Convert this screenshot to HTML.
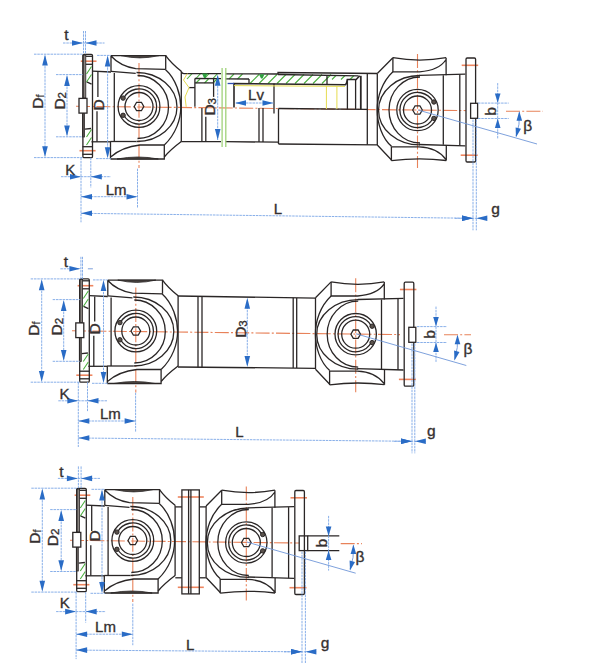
<!DOCTYPE html>
<html><head><meta charset="utf-8"><style>
html,body{margin:0;padding:0;background:#fff;}
svg{display:block;}
.k line,.k path,.k rect,.k circle,.k polygon{stroke:#2a2626;stroke-width:1.3;fill:none;}
.k rect[fill]{fill:#fff;}
.k .band{fill:#8a8480;stroke-width:0.8;}
.k .notch{fill:#5a524c;stroke-width:1;}
.k .lens{fill:#4a4440;stroke-width:0.8;}
.cl line{stroke:#e8825a;stroke-width:1.1;stroke-dasharray:14 2.2 2 2.2;}
.bl line,.bl path{stroke:#7aa6e6;stroke-width:0.9;stroke-dasharray:2.5 0.8;fill:none;}
.bolt line{stroke:#ee8660;stroke-width:1.6;}
.bs line,.bs path{stroke:#6f96d8;stroke-width:0.9;fill:none;}
.ar{fill:#2a6cc6;}
.gr line,.gr path{stroke:#4cb040;stroke-width:1.1;fill:none;}
.yl line,.yl path{stroke:#e6dc50;stroke-width:1;fill:none;}
text{font-family:"Liberation Sans",sans-serif;fill:#353030;stroke:#353030;stroke-width:0.35;}
.gr2 line{stroke:#9fd27a;stroke-width:1.3;}
</style></head><body>
<svg width="600" height="669" viewBox="0 0 600 669">

<g class="cl"><line x1="76" y1="106.3" x2="466" y2="110.6"/></g>
<g class="gr">
  <path d="M187.0,79 L192.0,73.6 M195.5,79 L200.5,73.6 M204.0,79 L209.0,73.6 M212.5,79 L217.5,73.6 M196.0,83 L200.0,79 M204.5,83 L208.5,79 M213.0,83 L217.0,79 M229.0,79 L234.0,74 M237.5,79 L242.5,74 M250.0,83.5 L259.0,74.5 M259.0,83.5 L268.0,74.5 M268.0,83.5 L277.0,74.5 M277.0,83.5 L286.0,74.5 M286.0,83.5 L295.0,74.5 M295.0,83.5 L304.0,74.5 M304.0,83.5 L313.0,74.5 M313.0,83.5 L322.0,74.5 M322.0,83.5 L331.0,74.5 M332.0,79.5 L336.0,75.5 M341.0,79.5 L345.0,75.5 M350.0,79.5 L354.0,75.5"/>
</g>
<g class="k">
  <path d="M181.3,71.5 Q182,73.6 184,73.6 L221,73.6 M225.5,73.8 L278,74 L278,72.5 L377.2,73.5"/>
  <line x1="278" y1="74.5" x2="358.5" y2="75.8"/>
  <line x1="181.3" y1="141.7" x2="221" y2="141.7"/>
  <line x1="194.9" y1="78.5" x2="221" y2="78.7"/>
  <line x1="225.5" y1="78.8" x2="249" y2="79"/>
  <line x1="249" y1="79" x2="249" y2="83.3"/>
  <line x1="194.9" y1="82.9" x2="213.6" y2="82.9"/>
  <line x1="194.9" y1="78.5" x2="194.9" y2="106.8"/>
  <line x1="189" y1="87.6" x2="194.9" y2="87.6"/>
  <line x1="213.6" y1="78.5" x2="213.6" y2="96.9"/>
  <line x1="201.9" y1="108" x2="201.9" y2="142"/>
  <line x1="205.8" y1="116.7" x2="205.8" y2="142"/>
  <line x1="225.5" y1="141.7" x2="278" y2="142.2"/>
  <line x1="259" y1="108" x2="259" y2="142"/>
  <line x1="263" y1="108" x2="263" y2="142"/>
  <path d="M234,107.4 L234,83.5 L345.1,84.8 Q346.5,84.5 347.4,79.5 L356.2,79.5 L359.7,75.8" style="stroke-width:1.6"/>
  <line x1="274" y1="83.5" x2="274" y2="113.5"/>
  <line x1="327" y1="75.8" x2="327" y2="84.2"/>
  <line x1="347.4" y1="79.5" x2="347.4" y2="109.3"/>
  <line x1="355.6" y1="79.5" x2="355.6" y2="109.3"/>
  <line x1="360.8" y1="75.8" x2="360.8" y2="109.3" style="stroke-width:1.8"/>
  <line x1="278.5" y1="108.5" x2="367.3" y2="109.3"/>
  <line x1="278.5" y1="108.5" x2="278.5" y2="144"/>
  <line x1="278.5" y1="144" x2="377.3" y2="144.8"/>
  <line x1="367.3" y1="73.6" x2="367.3" y2="144.8"/>
</g>
<g class="gr2">
  <line x1="222.1" y1="68" x2="222.1" y2="147"/>
  <line x1="225.8" y1="68" x2="225.8" y2="147"/>
</g>
<g class="yl">
  <path d="M187.3,73.6 L183.5,80 L189,87.6 L185,97 L186.2,106.8"/>
  <line x1="234" y1="85.6" x2="345" y2="86.4"/>
  <line x1="326.4" y1="86" x2="326.4" y2="109"/>
  <line x1="336.9" y1="86" x2="336.9" y2="109"/>
</g>
<path d="M202,73.6 L207.5,73.6 L205.5,78 L204,78 Z" fill="#2fa040"/>
<path d="M259,74.3 L264.5,74.3 L262.5,78.5 L261,78.5 Z" fill="#2fa040"/>
<g class="bl">
  <line x1="217.7" y1="76" x2="217.7" y2="140"/>
  <line x1="236" y1="103" x2="273.5" y2="103"/>
  <line x1="81" y1="213.3" x2="473" y2="218.3"/>
</g>
<g class="bs"><line x1="227.6" y1="83.5" x2="234" y2="83.5" style="stroke:#3050b0;stroke-width:1.3"/></g>
<polygon class="ar" points="217.7,74.8 220.5,85.8 214.9,85.8"/><polygon class="ar" points="217.7,140.0 214.9,129.0 220.5,129.0"/><polygon class="ar" points="235.0,103.0 246.0,100.2 246.0,105.8"/><polygon class="ar" points="273.5,103.0 262.5,105.8 262.5,100.2"/><polygon class="ar" points="473.0,218.3 462.0,221.0 462.0,215.4"/><text x="273.75" y="213.65" font-size="15" text-anchor="start">L</text><text x="215.45" y="115.6" font-size="15.5" text-anchor="start" transform="rotate(-90 215.45 115.6)">D<tspan font-size="11.5" dy="0.8">3</tspan></text><text x="248.1" y="99.65" font-size="15" text-anchor="start">Lv</text><g transform="translate(0,0)">

<g class="cl">
  <line x1="139" y1="63" x2="139" y2="168"/>
</g>
<g class="bolt">
  <line x1="80.8" y1="61.2" x2="96.5" y2="61.2"/>
  <line x1="79.5" y1="150.7" x2="95.6" y2="150.7"/>
</g>
<g class="k">
  <rect x="83" y="55" width="2.8" height="43" class="band"/>
  <rect x="82.5" y="113" width="2" height="24" class="band"/>
  <rect x="82.9" y="54.3" width="9.6" height="103.3" rx="1.2"/>
  <line x1="85.8" y1="56.3" x2="92.5" y2="56.3"/>
  <line x1="85.8" y1="64.3" x2="92.5" y2="64.3"/>
  <line x1="82.5" y1="146.7" x2="92.5" y2="146.7"/>
  <line x1="82.5" y1="154.3" x2="92.5" y2="154.3"/>
  <line x1="86.7" y1="81.8" x2="91.6" y2="84.1"/>
  <line x1="84.9" y1="129.2" x2="91.1" y2="128.5"/>
  <rect x="79" y="98.4" width="8" height="14.7" fill="#fff"/>
  <!-- hub -->
  <line x1="92.5" y1="71.1" x2="111" y2="72"/>
  <line x1="91.5" y1="141.8" x2="111" y2="141.8"/>
  <line x1="97.9" y1="72" x2="97.9" y2="97.1"/>
  <line x1="97" y1="111.3" x2="97" y2="141.8"/>
  <!-- top block -->
  <path d="M111,55.6 L165.7,55.6 L165.7,69.3 M111,55.6 L111,71.3 M111,56 Q120,66 135.7,68.7 L165.7,69.3"/>
  <path class="lens" d="M121,55.6 Q139.7,60.2 159,55.6 Z"/>
  <path d="M165.7,55.6 Q171,63 181.3,71.3"/>
  <!-- bottom block -->
  <path d="M110.5,159 L164.3,159 L164.3,145 M110.5,159 L110.5,141.8 M111,156.8 Q122,147 140,145 L164.3,145"/>
  <path class="lens" d="M117,159 Q138,155 158.3,159 Z"/>
  <path d="M164.3,157 Q170,150 181.3,141.5"/>
  <!-- body -->
  <line x1="111" y1="71.3" x2="135.7" y2="73.3"/>
  <line x1="110.5" y1="141.5" x2="136.3" y2="141.5"/>
  <line x1="114.3" y1="73" x2="114.3" y2="141.5"/>
  <line x1="181.3" y1="71.3" x2="181.3" y2="141.7"/>
  <path d="M136.5,72.5 A40.5,34.5 0 0 1 136.5,141.5"/>
  <path d="M137.5,75.5 A31,31.5 0 0 1 137.5,138.5"/>
  <path d="M165.4,69.5 C176,79 180.8,95 180.8,107 C180.8,119 176,134 164.3,145"/>
  <circle cx="139" cy="106.5" r="20.9"/>
  <path d="M123.5,98.2 A17.6,17.6 0 1 1 123.5,114.8"/>
  <circle cx="139" cy="106.5" r="14"/>
  <polygon points="134.2,106.5 136.6,102.3 141.4,102.3 143.8,106.5 141.4,110.7 136.6,110.7"/>
  <circle cx="123.1" cy="98.1" r="2.2" class="notch"/>
  <circle cx="123.1" cy="115.3" r="2.2" class="notch"/>
</g>
<g class="gr">
  <path d="M86.5,74 L91.5,66.5 M86.5,82 L91.5,74.5 M86.5,137 L91.5,129.5 M86.5,145 L91.5,137.5"/>
</g>

</g>
<g transform="translate(0,0)">

<g class="cl">
  <line x1="417.5" y1="54" x2="417.5" y2="168"/>
</g>
<g class="bolt">
  <line x1="461.7" y1="65.3" x2="478.2" y2="65.3"/>
  <line x1="460.7" y1="155.2" x2="477.7" y2="155.2"/>
</g>
<g class="k">
  <line x1="377.3" y1="73.5" x2="377.3" y2="145"/>
  <path d="M377.3,73.5 L392.9,57.7 M377.3,145 L391.5,160"/>
  <path d="M392.9,57.7 L392.9,71.8 L419.5,71.8 M446.1,57.7 L446.1,75.3 M446.1,59.5 Q439,70.5 419.5,71.8"/>
  <path d="M392.9,57.7 Q420,62.5 446.1,57.7"/>
  <path d="M391.4,160.7 L391.4,146.9 L419,146.9 M446.3,160.5 L446.3,145.5 M446,159.5 Q437,147.5 419,146.9"/>
  <path d="M391.4,160.7 Q419,157 446.3,160.5"/>
  <line x1="419.5" y1="75.3" x2="465.3" y2="74.2"/>
  <line x1="419" y1="144.5" x2="465.3" y2="145.8"/>
  <line x1="443.3" y1="75.3" x2="443.3" y2="144.8"/>
  <line x1="459.8" y1="74.6" x2="459.8" y2="145.6"/>
  <path d="M420,75.5 A41.5,34.7 0 0 0 420,144.9"/>
  <path d="M420,77 A31,33 0 0 0 420,143"/>
  <path d="M392.9,71.8 C382,82 377.2,97 377.2,110 C377.2,123 382,138 391.5,146.3"/>
  <circle cx="417.5" cy="110" r="20.7"/>
  <path d="M433,101.7 A17.6,17.6 0 1 0 433,118.3"/>
  <circle cx="417.5" cy="110" r="14"/>
  <polygon points="412.7,110 415.1,105.8 419.9,105.8 422.3,110 419.9,114.2 415.1,114.2"/>
  <circle cx="433.9" cy="102" r="2.2" class="notch"/>
  <circle cx="433.9" cy="118.4" r="2.2" class="notch"/>
  <rect x="466" y="58" width="9.6" height="104" rx="1.2"/>
</g>

</g>
<g transform="translate(0,0)">
<g class="k"><rect x="470.6" y="103.3" width="7" height="15" fill="#fff"/></g>
</g>
<g class="bl"><line x1="34" y1="54.2" x2="82.5" y2="54.2"/><line x1="34" y1="157.6" x2="82.5" y2="157.6"/><line x1="56" y1="74.6" x2="83.0" y2="74.6"/><line x1="56" y1="136.8" x2="82.5" y2="136.8"/><line x1="97.1" y1="55.4" x2="111" y2="55.4"/><line x1="96.1" y1="158.6" x2="111" y2="158.6"/><line x1="45" y1="56.2" x2="45" y2="155.6"/><line x1="67" y1="76.6" x2="67" y2="134.8"/><line x1="107.6" y1="57.4" x2="107.6" y2="156.6"/><line x1="81" y1="157.6" x2="81" y2="222.3"/><line x1="90.8" y1="157.6" x2="90.8" y2="187.7"/><line x1="61" y1="176.7" x2="110.8" y2="176.7"/><line x1="137.5" y1="168.7" x2="137.5" y2="207.7"/><line x1="81" y1="196.7" x2="137.5" y2="196.7"/><line x1="83.5" y1="31" x2="83.5" y2="54.2"/><line x1="85.5" y1="31" x2="85.5" y2="54.2"/><line x1="63" y1="43" x2="104.5" y2="43"/></g><polygon class="ar" points="83.0,43.0 72.0,45.8 72.0,40.2"/><polygon class="ar" points="85.5,43.0 96.5,40.2 96.5,45.8"/><polygon class="ar" points="45.0,54.5 47.8,65.5 42.2,65.5"/><polygon class="ar" points="45.0,157.3 42.2,146.3 47.8,146.3"/><polygon class="ar" points="67.0,75.0 69.8,86.0 64.2,86.0"/><polygon class="ar" points="67.0,136.5 64.2,125.5 69.8,125.5"/><polygon class="ar" points="107.6,55.6 110.4,66.6 104.8,66.6"/><polygon class="ar" points="107.6,158.2 104.8,147.2 110.4,147.2"/><polygon class="ar" points="81.0,176.7 70.0,179.5 70.0,173.9"/><polygon class="ar" points="90.8,176.7 101.8,173.9 101.8,179.5"/><polygon class="ar" points="81.0,196.7 92.0,193.9 92.0,199.5"/><polygon class="ar" points="137.5,196.7 126.5,199.5 126.5,193.9"/><polygon class="ar" points="81.0,213.3 92.0,210.5 92.0,216.1"/><text x="64.25" y="39.95" font-size="15.5" text-anchor="start">t</text><text x="42.62" y="108.65" font-size="15.5" text-anchor="start" transform="rotate(-90 42.62 108.65)">D<tspan font-size="10.5" dy="1">f</tspan></text><text x="64.8" y="109.6" font-size="15.5" text-anchor="start" transform="rotate(-90 64.8 109.6)">D<tspan font-size="11.5" dy="0.8">2</tspan></text><text x="104.35" y="110.55" font-size="15.5" text-anchor="start" transform="rotate(-90 104.35 110.55)">D</text><text x="65.25" y="174.5" font-size="15" text-anchor="start">K</text><text x="105.65" y="195.0" font-size="15" text-anchor="start">Lm</text><g class="bl"><line x1="497.7" y1="83.1" x2="497.7" y2="138.5"/><line x1="478" y1="103.1" x2="508.7" y2="103.1"/><line x1="478" y1="118.5" x2="508.7" y2="118.5"/><line x1="473" y1="119.5" x2="473" y2="230.3"/><line x1="476.3" y1="119.5" x2="476.3" y2="230.3"/><line x1="455" y1="218.3" x2="487.3" y2="218.3"/></g><g class="cl"><line x1="506" y1="111.3" x2="543" y2="111.3"/></g><g class="bs"><line x1="418" y1="110" x2="537" y2="144"/><path d="M519.3,112.3 Q520.3,124.30000000000001 516,136.3"/></g><polygon class="ar" points="497.7,103.1 494.9,93.6 500.5,93.6"/><polygon class="ar" points="497.7,118.5 500.5,128.0 494.9,128.0"/><polygon class="ar" points="473.0,218.3 462.0,221.1 462.0,215.5"/><polygon class="ar" points="476.3,218.3 487.3,215.5 487.3,221.1"/><polygon class="ar" points="519.3,111.3 522.1,120.8 516.5,120.8"/><polygon class="ar" points="516.0,137.3 515.6,127.4 521.0,128.8"/><text x="496.1" y="115.45" font-size="15" text-anchor="start" transform="rotate(-90 496.1 115.45)">b</text><text x="523.35" y="130.8" font-size="15.5" text-anchor="start">β</text><text x="491.25" y="214.2" font-size="15.5" text-anchor="start">g</text><g class="cl"><line x1="72" y1="330.8" x2="400" y2="334.6"/></g>
<g class="k">
  <line x1="178" y1="296" x2="315.5" y2="298.2"/>
  <line x1="178" y1="367" x2="315.5" y2="368.3"/>
  <line x1="198" y1="296.2" x2="198" y2="367.2"/>
  <line x1="202" y1="296.3" x2="202" y2="367.3"/>
  <line x1="293.2" y1="297.8" x2="293.2" y2="368.1"/>
  <line x1="296.7" y1="297.9" x2="296.7" y2="368.1"/>
</g>
<g class="bl"><line x1="247.3" y1="300" x2="247.3" y2="365"/></g>
<polygon class="ar" points="247.3,297.8 250.1,308.8 244.5,308.8"/><polygon class="ar" points="247.3,367.1 244.5,356.1 250.1,356.1"/><text x="245.8" y="337.85" font-size="15.5" text-anchor="start" transform="rotate(-90 245.8 337.85)">D<tspan font-size="11.5" dy="0.8">3</tspan></text><g class="bl"><line x1="78.3" y1="438" x2="412" y2="441.3"/></g><polygon class="ar" points="412.0,441.3 401.0,444.0 401.0,438.4"/><text x="235.2" y="437.45" font-size="15" text-anchor="start">L</text><g transform="translate(-3.2,224.5)">

<g class="cl">
  <line x1="139" y1="63" x2="139" y2="168"/>
</g>
<g class="bolt">
  <line x1="80.8" y1="61.2" x2="96.5" y2="61.2"/>
  <line x1="79.5" y1="150.7" x2="95.6" y2="150.7"/>
</g>
<g class="k">
  <rect x="83" y="55" width="2.8" height="43" class="band"/>
  <rect x="82.5" y="113" width="2" height="24" class="band"/>
  <rect x="82.9" y="54.3" width="9.6" height="103.3" rx="1.2"/>
  <line x1="85.8" y1="56.3" x2="92.5" y2="56.3"/>
  <line x1="85.8" y1="64.3" x2="92.5" y2="64.3"/>
  <line x1="82.5" y1="146.7" x2="92.5" y2="146.7"/>
  <line x1="82.5" y1="154.3" x2="92.5" y2="154.3"/>
  <line x1="86.7" y1="81.8" x2="91.6" y2="84.1"/>
  <line x1="84.9" y1="129.2" x2="91.1" y2="128.5"/>
  <rect x="79" y="98.4" width="8" height="14.7" fill="#fff"/>
  <!-- hub -->
  <line x1="92.5" y1="71.1" x2="111" y2="72"/>
  <line x1="91.5" y1="141.8" x2="111" y2="141.8"/>
  <line x1="97.9" y1="72" x2="97.9" y2="97.1"/>
  <line x1="97" y1="111.3" x2="97" y2="141.8"/>
  <!-- top block -->
  <path d="M111,55.6 L165.7,55.6 L165.7,69.3 M111,55.6 L111,71.3 M111,56 Q120,66 135.7,68.7 L165.7,69.3"/>
  <path class="lens" d="M121,55.6 Q139.7,60.2 159,55.6 Z"/>
  <path d="M165.7,55.6 Q171,63 181.3,71.3"/>
  <!-- bottom block -->
  <path d="M110.5,159 L164.3,159 L164.3,145 M110.5,159 L110.5,141.8 M111,156.8 Q122,147 140,145 L164.3,145"/>
  <path class="lens" d="M117,159 Q138,155 158.3,159 Z"/>
  <path d="M164.3,157 Q170,150 181.3,141.5"/>
  <!-- body -->
  <line x1="111" y1="71.3" x2="135.7" y2="73.3"/>
  <line x1="110.5" y1="141.5" x2="136.3" y2="141.5"/>
  <line x1="114.3" y1="73" x2="114.3" y2="141.5"/>
  <line x1="181.3" y1="71.3" x2="181.3" y2="141.7"/>
  <path d="M136.5,72.5 A40.5,34.5 0 0 1 136.5,141.5"/>
  <path d="M137.5,75.5 A31,31.5 0 0 1 137.5,138.5"/>
  <path d="M165.4,69.5 C176,79 180.8,95 180.8,107 C180.8,119 176,134 164.3,145"/>
  <circle cx="139" cy="106.5" r="20.9"/>
  <path d="M123.5,98.2 A17.6,17.6 0 1 1 123.5,114.8"/>
  <circle cx="139" cy="106.5" r="14"/>
  <polygon points="134.2,106.5 136.6,102.3 141.4,102.3 143.8,106.5 141.4,110.7 136.6,110.7"/>
  <circle cx="123.1" cy="98.1" r="2.2" class="notch"/>
  <circle cx="123.1" cy="115.3" r="2.2" class="notch"/>
</g>
<g class="gr">
  <path d="M86.5,74 L91.5,66.5 M86.5,82 L91.5,74.5 M86.5,137 L91.5,129.5 M86.5,145 L91.5,137.5"/>
</g>

</g>
<g transform="translate(-61.8,224.2)">

<g class="cl">
  <line x1="417.5" y1="54" x2="417.5" y2="168"/>
</g>
<g class="bolt">
  <line x1="461.7" y1="65.3" x2="478.2" y2="65.3"/>
  <line x1="460.7" y1="155.2" x2="477.7" y2="155.2"/>
</g>
<g class="k">
  <line x1="377.3" y1="73.5" x2="377.3" y2="145"/>
  <path d="M377.3,73.5 L392.9,57.7 M377.3,145 L391.5,160"/>
  <path d="M392.9,57.7 L392.9,71.8 L419.5,71.8 M446.1,57.7 L446.1,75.3 M446.1,59.5 Q439,70.5 419.5,71.8"/>
  <path d="M392.9,57.7 Q420,62.5 446.1,57.7"/>
  <path d="M391.4,160.7 L391.4,146.9 L419,146.9 M446.3,160.5 L446.3,145.5 M446,159.5 Q437,147.5 419,146.9"/>
  <path d="M391.4,160.7 Q419,157 446.3,160.5"/>
  <line x1="419.5" y1="75.3" x2="465.3" y2="74.2"/>
  <line x1="419" y1="144.5" x2="465.3" y2="145.8"/>
  <line x1="443.3" y1="75.3" x2="443.3" y2="144.8"/>
  <line x1="459.8" y1="74.6" x2="459.8" y2="145.6"/>
  <path d="M420,75.5 A41.5,34.7 0 0 0 420,144.9"/>
  <path d="M420,77 A31,33 0 0 0 420,143"/>
  <path d="M392.9,71.8 C382,82 377.2,97 377.2,110 C377.2,123 382,138 391.5,146.3"/>
  <circle cx="417.5" cy="110" r="20.7"/>
  <path d="M433,101.7 A17.6,17.6 0 1 0 433,118.3"/>
  <circle cx="417.5" cy="110" r="14"/>
  <polygon points="412.7,110 415.1,105.8 419.9,105.8 422.3,110 419.9,114.2 415.1,114.2"/>
  <circle cx="433.9" cy="102" r="2.2" class="notch"/>
  <circle cx="433.9" cy="118.4" r="2.2" class="notch"/>
  <rect x="466" y="58" width="9.6" height="104" rx="1.2"/>
</g>

</g>
<g transform="translate(-61.8,224)">
<g class="k"><rect x="470.6" y="103.3" width="7" height="15" fill="#fff"/></g>
</g>
<g class="bl"><line x1="30.700000000000003" y1="278.9" x2="79.8" y2="278.9"/><line x1="30.700000000000003" y1="382.2" x2="79.8" y2="382.2"/><line x1="52.7" y1="299.6" x2="80.3" y2="299.6"/><line x1="52.7" y1="361.3" x2="79.8" y2="361.3"/><line x1="93.0" y1="279.9" x2="107.6" y2="279.9"/><line x1="92.0" y1="383.3" x2="107.6" y2="383.3"/><line x1="41.7" y1="280.9" x2="41.7" y2="380.2"/><line x1="63.7" y1="301.6" x2="63.7" y2="359.3"/><line x1="103.5" y1="281.9" x2="103.5" y2="381.3"/><line x1="78.3" y1="382.2" x2="78.3" y2="447"/><line x1="87.5" y1="382.2" x2="87.5" y2="411.8"/><line x1="58.3" y1="400.8" x2="107.5" y2="400.8"/><line x1="135.6" y1="392.8" x2="135.6" y2="432"/><line x1="78.3" y1="421" x2="135.6" y2="421"/><line x1="80.9" y1="256.8" x2="80.9" y2="278.9"/><line x1="82.5" y1="256.8" x2="82.5" y2="278.9"/><line x1="60.400000000000006" y1="268.8" x2="80.4" y2="268.8"/></g><polygon class="ar" points="80.4,268.8 69.4,271.6 69.4,266.0"/><g class="bs"><line x1="87.9" y1="268.8" x2="92.9" y2="268.8"/></g><polygon class="ar" points="41.7,279.2 44.5,290.2 38.9,290.2"/><polygon class="ar" points="41.7,381.9 38.9,370.9 44.5,370.9"/><polygon class="ar" points="63.7,300.0 66.5,311.0 60.9,311.0"/><polygon class="ar" points="63.7,361.0 60.9,350.0 66.5,350.0"/><polygon class="ar" points="103.5,280.1 106.3,291.1 100.7,291.1"/><polygon class="ar" points="103.5,382.9 100.7,371.9 106.3,371.9"/><polygon class="ar" points="78.3,400.8 67.3,403.6 67.3,398.0"/><polygon class="ar" points="87.5,400.8 98.5,398.0 98.5,403.6"/><polygon class="ar" points="78.3,421.0 89.3,418.2 89.3,423.8"/><polygon class="ar" points="135.6,421.0 124.6,423.8 124.6,418.2"/><polygon class="ar" points="78.3,438.0 89.3,435.2 89.3,440.8"/><text x="63.85" y="266.75" font-size="15.5" text-anchor="start">t</text><text x="39.2" y="335.73" font-size="15.5" text-anchor="start" transform="rotate(-90 39.2 335.73)">D<tspan font-size="10.5" dy="1">f</tspan></text><text x="61.75" y="335.48" font-size="15.5" text-anchor="start" transform="rotate(-90 61.75 335.48)">D<tspan font-size="11.5" dy="0.8">2</tspan></text><text x="100.5" y="334.45" font-size="15.5" text-anchor="start" transform="rotate(-90 100.5 334.45)">D</text><text x="59.5" y="398.6" font-size="15" text-anchor="start">K</text><text x="99.9" y="419.05" font-size="15" text-anchor="start">Lm</text><g class="bl"><line x1="436" y1="306.6" x2="436" y2="362.5"/><line x1="417" y1="326.6" x2="447" y2="326.6"/><line x1="417" y1="342.5" x2="447" y2="342.5"/><line x1="412" y1="343.5" x2="412" y2="453.3"/><line x1="414.8" y1="343.5" x2="414.8" y2="453.3"/><line x1="394" y1="441.3" x2="425.8" y2="441.3"/></g><g class="cl"><line x1="444" y1="334.8" x2="471" y2="334.8"/></g><g class="bs"><line x1="356" y1="333.8" x2="466.3" y2="365.5"/><path d="M457.5,335.8 Q458.5,347.65 454.5,359.5"/></g><polygon class="ar" points="436.0,326.6 433.2,317.1 438.8,317.1"/><polygon class="ar" points="436.0,342.5 438.8,352.0 433.2,352.0"/><polygon class="ar" points="412.0,441.3 401.0,444.1 401.0,438.5"/><polygon class="ar" points="414.8,441.3 425.8,438.5 425.8,444.1"/><polygon class="ar" points="457.5,334.8 460.3,344.3 454.7,344.3"/><polygon class="ar" points="454.5,360.5 454.1,350.6 459.5,352.0"/><text x="435.1" y="338.5" font-size="15" text-anchor="start" transform="rotate(-90 435.1 338.5)">b</text><text x="463.5" y="354.45" font-size="15.5" text-anchor="start">β</text><text x="427.0" y="435.5" font-size="15.5" text-anchor="start">g</text><g class="cl"><line x1="70" y1="540.3" x2="300" y2="543"/></g>
<g class="bolt">
  <line x1="177.8" y1="497" x2="203.8" y2="497"/>
  <line x1="177.8" y1="587.3" x2="203.8" y2="587.3"/>
</g>
<g class="k">
  <line x1="175.3" y1="506.9" x2="181.9" y2="506.9"/>
  <line x1="175.3" y1="577.8" x2="181.9" y2="577.8"/>
  <line x1="199.3" y1="506.9" x2="205.9" y2="506.9"/>
  <line x1="199.3" y1="577.8" x2="205.9" y2="577.8"/>
  <rect x="181.9" y="489.9" width="17.4" height="104"/>
  <line x1="188.6" y1="489.9" x2="188.6" y2="593.9"/>
  <line x1="190.9" y1="489.9" x2="190.9" y2="593.9"/>
</g>
<g class="k">
  <rect x="299.2" y="535.9" width="8.5" height="14.7" fill="#fff"/>
  <line x1="307.7" y1="535.9" x2="339.3" y2="535.9"/>
  <line x1="307.7" y1="550.6" x2="339.3" y2="550.6"/>
</g>
<g class="bl"><line x1="76.1" y1="650.1" x2="302" y2="651.8"/></g>
<polygon class="ar" points="302.0,651.8 291.0,654.5 291.0,648.9"/><text x="186.0" y="649.5" font-size="15" text-anchor="start">L</text><g transform="translate(-6.2,434)">

<g class="cl">
  <line x1="139" y1="63" x2="139" y2="168"/>
</g>
<g class="bolt">
  <line x1="80.8" y1="61.2" x2="96.5" y2="61.2"/>
  <line x1="79.5" y1="150.7" x2="95.6" y2="150.7"/>
</g>
<g class="k">
  <rect x="83" y="55" width="2.8" height="43" class="band"/>
  <rect x="82.5" y="113" width="2" height="24" class="band"/>
  <rect x="82.9" y="54.3" width="9.6" height="103.3" rx="1.2"/>
  <line x1="85.8" y1="56.3" x2="92.5" y2="56.3"/>
  <line x1="85.8" y1="64.3" x2="92.5" y2="64.3"/>
  <line x1="82.5" y1="146.7" x2="92.5" y2="146.7"/>
  <line x1="82.5" y1="154.3" x2="92.5" y2="154.3"/>
  <line x1="86.7" y1="81.8" x2="91.6" y2="84.1"/>
  <line x1="84.9" y1="129.2" x2="91.1" y2="128.5"/>
  <rect x="79" y="98.4" width="8" height="14.7" fill="#fff"/>
  <!-- hub -->
  <line x1="92.5" y1="71.1" x2="111" y2="72"/>
  <line x1="91.5" y1="141.8" x2="111" y2="141.8"/>
  <line x1="97.9" y1="72" x2="97.9" y2="97.1"/>
  <line x1="97" y1="111.3" x2="97" y2="141.8"/>
  <!-- top block -->
  <path d="M111,55.6 L165.7,55.6 L165.7,69.3 M111,55.6 L111,71.3 M111,56 Q120,66 135.7,68.7 L165.7,69.3"/>
  <path class="lens" d="M121,55.6 Q139.7,60.2 159,55.6 Z"/>
  <path d="M165.7,55.6 Q171,63 181.3,71.3"/>
  <!-- bottom block -->
  <path d="M110.5,159 L164.3,159 L164.3,145 M110.5,159 L110.5,141.8 M111,156.8 Q122,147 140,145 L164.3,145"/>
  <path class="lens" d="M117,159 Q138,155 158.3,159 Z"/>
  <path d="M164.3,157 Q170,150 181.3,141.5"/>
  <!-- body -->
  <line x1="111" y1="71.3" x2="135.7" y2="73.3"/>
  <line x1="110.5" y1="141.5" x2="136.3" y2="141.5"/>
  <line x1="114.3" y1="73" x2="114.3" y2="141.5"/>
  <line x1="181.3" y1="71.3" x2="181.3" y2="141.7"/>
  <path d="M136.5,72.5 A40.5,34.5 0 0 1 136.5,141.5"/>
  <path d="M137.5,75.5 A31,31.5 0 0 1 137.5,138.5"/>
  <path d="M165.4,69.5 C176,79 180.8,95 180.8,107 C180.8,119 176,134 164.3,145"/>
  <circle cx="139" cy="106.5" r="20.9"/>
  <path d="M123.5,98.2 A17.6,17.6 0 1 1 123.5,114.8"/>
  <circle cx="139" cy="106.5" r="14"/>
  <polygon points="134.2,106.5 136.6,102.3 141.4,102.3 143.8,106.5 141.4,110.7 136.6,110.7"/>
  <circle cx="123.1" cy="98.1" r="2.2" class="notch"/>
  <circle cx="123.1" cy="115.3" r="2.2" class="notch"/>
</g>
<g class="gr">
  <path d="M86.5,74 L91.5,66.5 M86.5,82 L91.5,74.5 M86.5,137 L91.5,129.5 M86.5,145 L91.5,137.5"/>
</g>

</g>
<g transform="translate(-171.2,432.5)">

<g class="cl">
  <line x1="417.5" y1="54" x2="417.5" y2="168"/>
</g>
<g class="bolt">
  <line x1="461.7" y1="65.3" x2="478.2" y2="65.3"/>
  <line x1="460.7" y1="155.2" x2="477.7" y2="155.2"/>
</g>
<g class="k">
  <line x1="377.3" y1="73.5" x2="377.3" y2="145"/>
  <path d="M377.3,73.5 L392.9,57.7 M377.3,145 L391.5,160"/>
  <path d="M392.9,57.7 L392.9,71.8 L419.5,71.8 M446.1,57.7 L446.1,75.3 M446.1,59.5 Q439,70.5 419.5,71.8"/>
  <path d="M392.9,57.7 Q420,62.5 446.1,57.7"/>
  <path d="M391.4,160.7 L391.4,146.9 L419,146.9 M446.3,160.5 L446.3,145.5 M446,159.5 Q437,147.5 419,146.9"/>
  <path d="M391.4,160.7 Q419,157 446.3,160.5"/>
  <line x1="419.5" y1="75.3" x2="465.3" y2="74.2"/>
  <line x1="419" y1="144.5" x2="465.3" y2="145.8"/>
  <line x1="443.3" y1="75.3" x2="443.3" y2="144.8"/>
  <line x1="459.8" y1="74.6" x2="459.8" y2="145.6"/>
  <path d="M420,75.5 A41.5,34.7 0 0 0 420,144.9"/>
  <path d="M420,77 A31,33 0 0 0 420,143"/>
  <path d="M392.9,71.8 C382,82 377.2,97 377.2,110 C377.2,123 382,138 391.5,146.3"/>
  <circle cx="417.5" cy="110" r="20.7"/>
  <path d="M433,101.7 A17.6,17.6 0 1 0 433,118.3"/>
  <circle cx="417.5" cy="110" r="14"/>
  <polygon points="412.7,110 415.1,105.8 419.9,105.8 422.3,110 419.9,114.2 415.1,114.2"/>
  <circle cx="433.9" cy="102" r="2.2" class="notch"/>
  <circle cx="433.9" cy="118.4" r="2.2" class="notch"/>
  <rect x="466" y="58" width="9.6" height="104" rx="1.2"/>
</g>

</g>
<g class="bl"><line x1="31.299999999999997" y1="488.2" x2="76.5" y2="488.2"/><line x1="31.299999999999997" y1="592.1" x2="76.5" y2="592.1"/><line x1="50.2" y1="509.6" x2="77.0" y2="509.6"/><line x1="50.2" y1="571.5" x2="76.5" y2="571.5"/><line x1="91.5" y1="489.3" x2="105" y2="489.3"/><line x1="90.5" y1="593.3" x2="105" y2="593.3"/><line x1="42.3" y1="490.2" x2="42.3" y2="590.1"/><line x1="61.2" y1="511.6" x2="61.2" y2="569.5"/><line x1="102" y1="491.3" x2="102" y2="591.3"/><line x1="76.1" y1="592.1" x2="76.1" y2="659.1"/><line x1="85.7" y1="592.1" x2="85.7" y2="622.6"/><line x1="56.099999999999994" y1="611.6" x2="105.7" y2="611.6"/><line x1="132.8" y1="603.6" x2="132.8" y2="645.2"/><line x1="76.1" y1="634.2" x2="132.8" y2="634.2"/><line x1="78.4" y1="466.4" x2="78.4" y2="488.2"/><line x1="81.1" y1="466.4" x2="81.1" y2="488.2"/><line x1="57.900000000000006" y1="478.4" x2="100.1" y2="478.4"/></g><polygon class="ar" points="77.9,478.4 66.9,481.2 66.9,475.6"/><polygon class="ar" points="81.1,478.4 92.1,475.6 92.1,481.2"/><polygon class="ar" points="42.3,488.5 45.1,499.5 39.5,499.5"/><polygon class="ar" points="42.3,591.8 39.5,580.8 45.1,580.8"/><polygon class="ar" points="61.2,510.0 64.0,521.0 58.4,521.0"/><polygon class="ar" points="61.2,571.2 58.4,560.2 64.0,560.2"/><polygon class="ar" points="102.0,489.5 104.8,500.5 99.2,500.5"/><polygon class="ar" points="102.0,592.9 99.2,581.9 104.8,581.9"/><polygon class="ar" points="76.1,611.6 65.1,614.4 65.1,608.8"/><polygon class="ar" points="85.7,611.6 96.7,608.8 96.7,614.4"/><polygon class="ar" points="76.1,634.2 87.1,631.4 87.1,637.0"/><polygon class="ar" points="132.8,634.2 121.8,637.0 121.8,631.4"/><polygon class="ar" points="76.1,650.1 87.1,647.3 87.1,652.9"/><text x="59.2" y="477.15" font-size="15.5" text-anchor="start">t</text><text x="39.55" y="543.65" font-size="15.5" text-anchor="start" transform="rotate(-90 39.55 543.65)">D<tspan font-size="10.5" dy="1">f</tspan></text><text x="58.25" y="546.2" font-size="15.5" text-anchor="start" transform="rotate(-90 58.25 546.2)">D<tspan font-size="11.5" dy="0.8">2</tspan></text><text x="100.1" y="541.6" font-size="15.5" text-anchor="start" transform="rotate(-90 100.1 541.6)">D</text><text x="59.8" y="608.25" font-size="15" text-anchor="start">K</text><text x="95.1" y="632.1" font-size="15" text-anchor="start">Lm</text><g class="bl"><line x1="328.6" y1="515.9" x2="328.6" y2="570.6"/><line x1="302" y1="551.6" x2="302" y2="663.8"/><line x1="305.4" y1="551.6" x2="305.4" y2="663.8"/><line x1="284" y1="651.8" x2="316.4" y2="651.8"/></g><g class="cl"><line x1="340.7" y1="543.6" x2="362" y2="543.6"/></g><g class="bs"><line x1="246.7" y1="542" x2="355.7" y2="573.2"/><path d="M353.4,545.4 Q354.4,557.4 350,569.4"/></g><polygon class="ar" points="328.6,535.9 325.8,526.4 331.4,526.4"/><polygon class="ar" points="328.6,550.6 331.4,560.1 325.8,560.1"/><polygon class="ar" points="302.0,651.8 291.0,654.6 291.0,649.0"/><polygon class="ar" points="305.4,651.8 316.4,649.0 316.4,654.6"/><polygon class="ar" points="353.4,544.4 356.2,553.9 350.6,553.9"/><polygon class="ar" points="350.0,570.4 349.6,560.5 355.0,561.9"/><text x="327.3" y="547.25" font-size="15" text-anchor="start" transform="rotate(-90 327.3 547.25)">b</text><text x="355.5" y="562.3" font-size="15.5" text-anchor="start">β</text><text x="320.8" y="648.45" font-size="15.5" text-anchor="start">g</text></svg>
</body></html>
